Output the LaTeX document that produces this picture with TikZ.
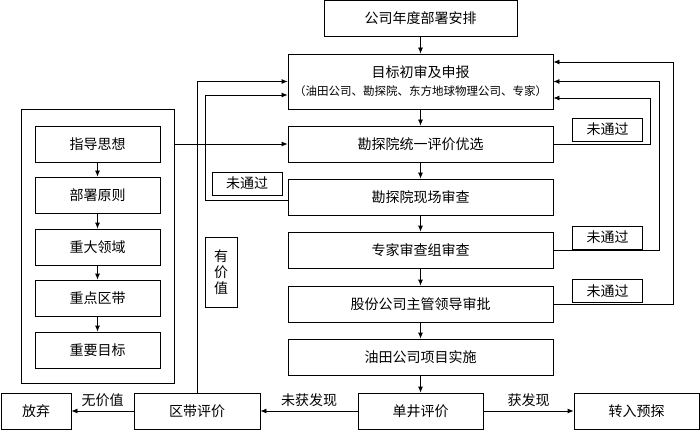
\documentclass[tikz,border=0pt]{standalone}
\usepackage{fontspec}
\setmainfont{Noto Sans CJK SC}
\usetikzlibrary{arrows.meta}
\tikzset{
  box/.style={draw, line width=0.8pt, inner sep=0pt, minimum height=36pt, font=\fontsize{14}{16}\selectfont},
  wide/.style={box, minimum width=265pt},
  small/.style={box, minimum width=125pt},
  tag/.style={draw, line width=0.8pt, inner sep=0pt, minimum width=70pt, minimum height=23pt, font=\fontsize{14}{16}\selectfont},
  arr/.style={line width=0.8pt, -{Latex[length=6pt,width=5pt]}},
  lbl/.style={font=\fontsize{14}{16}\selectfont, above=1pt, midway}
}
\begin{document}
\begin{tikzpicture}[x=1pt, y=-1pt]
\useasboundingbox (0,0) rectangle (700,430);
\node[box, minimum width=193pt] (plan) at (420.5,18.5) {公司年度部署安排};
\node[wide, minimum height=55pt, align=center] (report) at (420.5,81.5)
  {目标初审及申报\\[2pt]{\fontsize{11.5}{13}\selectfont （油田公司、勘探院、东方地球物理公司、专家）}};
\node[wide] (select) at (420.5,144) {勘探院统一评价优选};
\node[wide] (field) at (420.5,197) {勘探院现场审查};
\node[wide] (expert) at (420.5,250) {专家审查组审查};
\node[wide] (approve) at (420.5,304) {股份公司主管领导审批};
\node[wide] (implement) at (420.5,357) {油田公司项目实施};
\node[small] (well) at (420.5,411) {单井评价};
\node[small] (transfer) at (636.5,411) {转入预探};
\node[small, minimum width=126pt] (zone) at (197,411) {区带评价};
\node[box, minimum width=70pt] (abandon) at (36,411) {放弃};

\node[draw, line width=0.8pt, minimum width=153pt, minimum height=274pt] (frame) at (97.5,246) {};
\node[small] (idea) at (97.5,144) {指导思想};
\node[small] (rule) at (97.5,195) {部署原则};
\node[small] (field2) at (97.5,247) {重大领域};
\node[small] (belt) at (97.5,298) {重点区带};
\node[small] (target) at (97.5,350) {重要目标};

\node[tag] (failA) at (247,183.5) {未通过};
\node[tag] (failB) at (607.5,129.5) {未通过};
\node[tag] (failC) at (607.5,237.5) {未通过};
\node[tag] (failD) at (607.5,291) {未通过};
\node[tag, minimum width=32pt, minimum height=70pt, align=center] (worth) at (221,272) {有\\价\\值};

\draw[arr] (plan) -- (report);
\draw[arr] (report) -- (select);
\draw[arr] (select) -- (field);
\draw[arr] (field) -- (expert);
\draw[arr] (expert) -- (approve);
\draw[arr] (approve) -- (implement);
\draw[arr] (implement) -- (well);
\draw[arr] (idea) -- (rule);
\draw[arr] (rule) -- (field2);
\draw[arr] (field2) -- (belt);
\draw[arr] (belt) -- (target);
\draw[arr] (frame.east |- select.west) -- (select.west);
\draw[arr] (zone.north) |- (report.west);
\draw[arr] ([yshift=-3pt]field.west) -- ++(-82,0) |- ([yshift=-13.5pt]report.west);
\draw[arr] (select.east) -- ++(97,0) |- ([yshift=-16.5pt]report.east);
\draw[arr] (expert.east) -- ++(106,0) |- (report.east);
\draw[arr] (approve.east) -- ++(120,0) |- ([yshift=19.5pt]report.east);
\draw[arr] (well) -- node[lbl] {未获发现} (zone);
\draw[arr] (well) -- node[lbl] {获发现} (transfer);
\draw[arr] (zone) -- node[lbl] {无价值} (abandon);
\end{tikzpicture}
\end{document}
